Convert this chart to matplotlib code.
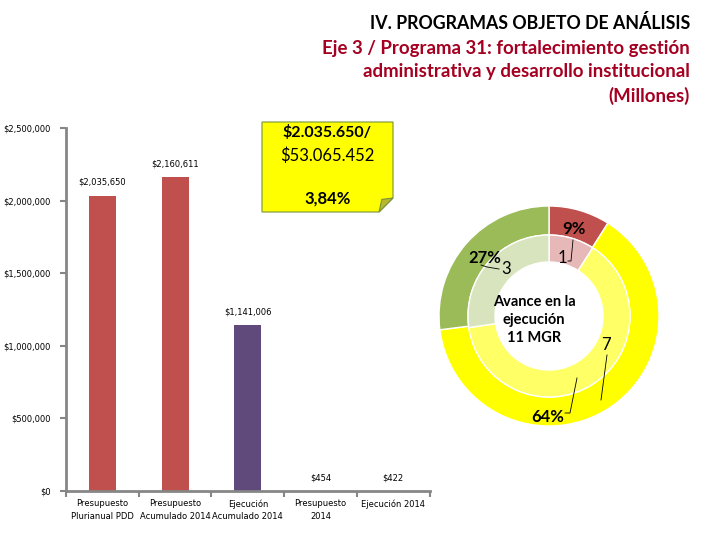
import numpy as np
import matplotlib.pyplot as plt
from matplotlib.patches import Polygon

# Datos
categorias = ['Presupuesto\nPlurianual PDD', 'Presupuesto\nAcumulado 2014',
              'Ejecución\nAcumulado 2014', 'Presupuesto\n2014', 'Ejecución 2014']
valores = [2035650, 2160611, 1141006, 454, 422]
etiquetas_valor = ['$2,035,650', '$2,160,611', '$1,141,006', '$454', '$422']
y_ticks = [0, 500000, 1000000, 1500000, 2000000, 2500000]
y_tick_labels = ['$0', '$500,000', '$1,000,000', '$1,500,000', '$2,000,000', '$2,500,000']

anillo_ext = [9, 64, 27]          # porcentaje
anillo_ext_labels = ['9%', '64%', '27%']
anillo_int = [1, 7, 3]            # MGR
anillo_int_labels = ['1', '7', '3']

colores_barras = ['#C0504D', '#C0504D', '#604A7B', '#C0504D', '#604A7B']
colores_ext = ['#C0504D', '#FFFF00', '#9BBB59']
colores_int = ['#E6B9B8', '#FFFF66', '#D7E4BD']

fig = plt.figure(figsize=(7.2, 5.4), dpi=100)

# Titulo
fig.text(0.958, 0.958, 'IV. PROGRAMAS OBJETO DE ANÁLISIS', ha='right', va='center',
         fontsize=12.8, fontweight='bold', family='Lato', color='black')
titulo2 = 'Eje 3 / Programa 31: fortalecimiento gestión\nadministrativa y desarrollo institucional\n(Millones)'
fig.text(0.958, 0.866, titulo2, ha='right', va='center', fontsize=13.4, fontweight='bold',
         family='Lato', color='#A50021', linespacing=1.45)

# Grafico de barras
ax = fig.add_axes([0.0917, 0.0907, 0.505, 0.672])
x = np.arange(len(categorias))
ax.bar(x, valores, width=0.37, color=colores_barras)
for xi, v, lab in zip(x, valores, etiquetas_valor):
    ax.text(xi, v + 60000, lab, ha='center', va='bottom', fontsize=6, family='DejaVu Sans')
ax.set_xlim(-0.5, len(categorias) - 0.5)
ax.set_ylim(0, 2500000)
ax.set_yticks(y_ticks)
ax.set_yticklabels(y_tick_labels, fontsize=6)
ax.set_xticks(x)
ax.set_xticklabels(categorias, fontsize=6, linespacing=1.5)
ax.set_xticks(np.arange(-0.5, len(categorias)), minor=True)
ax.tick_params(axis='x', which='major', length=0, pad=6)
ax.tick_params(axis='x', which='minor', length=4, width=1.5, color='#868686', direction='out')
ax.tick_params(axis='y', length=4, width=1.5, color='#868686', pad=7)
for s in ['top', 'right']:
    ax.spines[s].set_visible(False)
for s in ['left', 'bottom']:
    ax.spines[s].set_color('#868686')
    ax.spines[s].set_linewidth(2)

# Nota adhesiva
x0, x1 = 262 / 720, 393 / 720
y0, y1 = 1 - 212 / 540, 1 - 122 / 540
dx, dy = 14 / 720, 14 / 540
nota = Polygon([(x0, y0), (x1 - dx, y0), (x1, y0 + dy), (x1, y1), (x0, y1)],
               closed=True, transform=fig.transFigure, facecolor='#FFFF00',
               edgecolor='#77933C', linewidth=0.8)
fig.patches.append(nota)
pliegue = Polygon([(x1 - dx, y0), (x1 - dx * 0.8, y0 + dy * 0.9), (x1, y0 + dy)],
                  closed=True, transform=fig.transFigure, facecolor='#B8B82E',
                  edgecolor='#77933C', linewidth=0.8)
fig.patches.append(pliegue)
fig.text((x0 + x1) / 2, 1 - 133 / 540, '$2.035.650/', ha='center', va='center',
         fontsize=11.5, fontweight='bold', family='Lato')
fig.text((x0 + x1) / 2, 1 - 156 / 540, '$53.065.452', ha='center', va='center',
         fontsize=12, family='Lato')
fig.text((x0 + x1) / 2, 1 - 199 / 540, '3,84%', ha='center', va='center',
         fontsize=12, fontweight='bold', family='Lato')

# Dona
cx, cy, half = 549, 316, 130
axd = fig.add_axes([(cx - half) / 720, (540 - cy - half) / 540, 2 * half / 720, 2 * half / 540])
axd.pie(anillo_ext, radius=1.1, colors=colores_ext, startangle=90, counterclock=False,
        wedgeprops=dict(width=0.29, edgecolor='white', linewidth=1))
axd.pie(anillo_int, radius=0.81, colors=colores_int, startangle=90, counterclock=False,
        wedgeprops=dict(width=0.27, edgecolor='white', linewidth=1))
axd.set_xlim(-1.3, 1.3)
axd.set_ylim(-1.3, 1.3)
axd.set_aspect('equal')
axd.axis('off')

fk = dict(family='Lato', fontsize=12)
axd.text(0.25, 0.87, anillo_ext_labels[0], ha='center', va='center', fontweight='bold', **fk)
axd.text(0.13, 0.58, anillo_int_labels[0], ha='center', va='center', **fk)
axd.plot([0.19, 0.22, 0.24], [0.55, 0.55, 0.76], color='black', lw=0.6)
axd.text(-0.64, 0.58, anillo_ext_labels[2], ha='center', va='center', fontweight='bold', **fk)
axd.text(-0.43, 0.47, anillo_int_labels[2], ha='center', va='center', **fk)
axd.plot([-0.68, -0.62, -0.5], [0.51, 0.49, 0.47], color='black', lw=0.6)
axd.text(-0.01, -1.01, anillo_ext_labels[1], ha='center', va='center', fontweight='bold', **fk)
axd.plot([0.16, 0.21, 0.28], [-0.97, -0.97, -0.62], color='black', lw=0.6)
axd.text(0.57, -0.29, anillo_int_labels[1], ha='center', va='center', **fk)
axd.plot([0.58, 0.52], [-0.39, -0.84], color='black', lw=0.6)
axd.text(-0.15, -0.04, 'Avance en la\nejecución\n11 MGR', ha='center', va='center',
         fontweight='bold', family='Lato', fontsize=10.5, linespacing=1.35)

plt.savefig('out.png', dpi=100)
